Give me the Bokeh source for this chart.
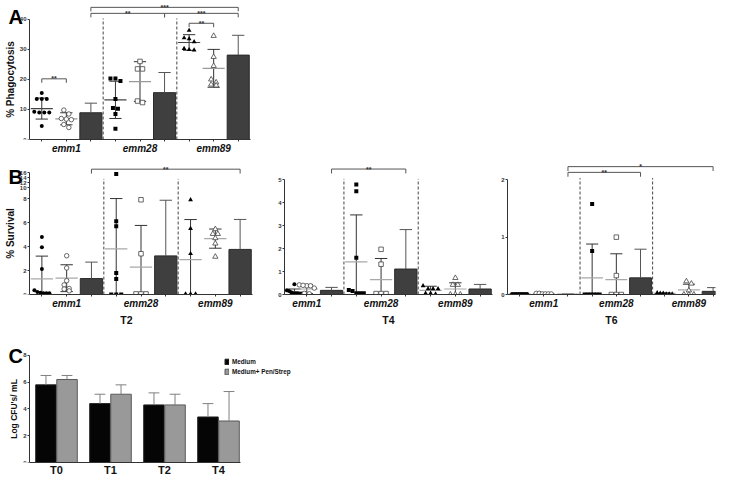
import numpy as np
from bokeh.plotting import figure
from bokeh.layouts import column, row
from bokeh.models import Range1d, FixedTicker
from bokeh.embed import file_html
from bokeh.resources import INLINE
from bokeh.core.properties import value

FONT = "Liberation Sans"
STRAINS = ["emm1", "emm28", "emm89"]
MARKERS = ["circle", "square", "triangle"]

# ---------------- Panel A : % Phagocytosis ----------------
A_FILLED = [[15.5, 13.5, 13.5, 13.5, 9.0, 9.0, 9.2, 9.0, 4.5],
            [20.3, 20.3, 19.5, 13.5, 10.5, 10.2, 8.5, 3.6],
            [36.3, 33.8, 33.5, 32.5, 30.3, 29.8, 29.9]]
A_FILLED_MEAN = [10.3, 13.2, 32.3]
A_FILLED_SD = [3.5, 6.2, 2.6]
A_OPEN = [[9.8, 8.5, 6.8, 6.6, 7.0, 5.0, 4.0],
          [26.0, 23.5, 23.5, 12.8, 12.3],
          [34.5, 27.5, 24.5, 20.0, 19.0, 18.3, 18.0]]
A_OPEN_MEAN = [6.9, 19.3, 23.7]
A_OPEN_SD = [2.0, 6.6, 6.3]
A_BAR = [8.9, 15.6, 28.1]
A_BAR_ERR = [3.2, 6.7, 6.6]
# (column from, column to, level, stars)
A_SIG = [(0, 1, 20.2, "**"), (6, 7, 38.7, "**"),
         (2, 5, 42.0, "**"), (5, 8, 42.0, "***"), (2, 8, 44.0, "***")]

# ---------------- Panel B : % Survival ----------------
B_TIMES = ["T2", "T4", "T6"]
T2_FILLED = [[4.8, 3.95, 2.13, 0.35, 0.2, 0.15, 0.1, 0.1, 0.1],
             [15.5, 6.1, 5.7, 1.8, 1.3, 0.0, 0.0, 0.0],
             [7.9, 5.5, 3.4, 0.05, 0.05, 0.05]]
T2_FILLED_MEAN = [1.3, 3.8, 2.9]
T2_FILLED_SD = [1.9, 4.2, 3.35]
T2_OPEN = [[3.23, 2.21, 1.15, 0.8, 0.5, 0.45, 0.3],
           [7.9, 3.4, 0.05, 0.05, 0.05],
           [5.45, 5.05, 5.05, 4.7, 4.25, 3.15]]
T2_OPEN_MEAN = [1.36, 2.29, 4.66]
T2_OPEN_SD = [1.12, 3.47, 0.8]
T2_BAR = [1.33, 3.22, 3.76]
T2_BAR_ERR = [1.37, 4.64, 2.5]
T2_SIG = [(2, 8, 10.45, "**")]

T4_FILLED = [[0.45, 0.18, 0.15, 0.1, 0.05, 0.05, 0.05, 0.03, 0.03],
             [4.8, 4.5, 1.6, 0.2, 0.15, 0.05, 0.05, 0.05],
             [0.38, 0.25, 0.25, 0.25, 0.05, 0.05, 0.02]]
T4_FILLED_MEAN = [0.12, 1.42, 0.18]
T4_FILLED_SD = [0.12, 2.05, 0.18]
T4_OPEN = [[0.42, 0.38, 0.38, 0.4, 0.28, 0.05, 0.03],
           [1.97, 1.32, 0.04, 0.04, 0.04],
           [0.72, 0.42, 0.42, 0.0, 0.0, 0.0]]
T4_OPEN_MEAN = [0.24, 0.65, 0.24]
T4_OPEN_SD = [0.2, 0.92, 0.27]
T4_BAR = [0.18, 1.11, 0.24]
T4_BAR_ERR = [0.13, 1.72, 0.2]
T4_SIG = [(2, 5, 5.47, "**")]

T6_FILLED = [[0.01, 0.01, 0.01, 0.01, 0.01, 0.01, 0.01, 0.01],
             [1.58, 0.76, 0.0, 0.0, 0.0, 0.0, 0.0, 0.0],
             [0.03, 0.02, 0.02, 0.01, 0.01, 0.01]]
T6_FILLED_MEAN = [0.01, 0.29, 0.02]
T6_FILLED_SD = [0.005, 0.59, 0.01]
T6_OPEN = [[0.02, 0.02, 0.01, 0.01, 0.01, 0.01],
           [1.0, 0.33, 0.0, 0.0, 0.0],
           [0.23, 0.19, 0.07, 0.0, 0.0, 0.0]]
T6_OPEN_MEAN = [0.015, 0.26, 0.08]
T6_OPEN_SD = [0.005, 0.45, 0.1]
T6_BAR = [0.004, 0.29, 0.055]
T6_BAR_ERR = [0.004, 0.5, 0.065]
T6_SIG = [(2, 5, 2.13, "**"), (2, 8, 2.23, "*")]

# ---------------- Panel C : Log CFU's / mL ----------------
C_TIMES = ["T0", "T1", "T2", "T4"]
C_MEDIUM = [5.8, 4.4, 4.3, 3.4]
C_MEDIUM_ERR = [0.7, 0.7, 0.9, 1.0]
C_PEN = [6.2, 5.1, 4.3, 3.1]
C_PEN_ERR = [0.3, 0.7, 0.8, 2.2]


def b1_tf(v):
    """broken axis of T2: 0-8 linear, 10-16 compressed"""
    if v <= 8:
        return v
    return 8.89 + (v - 10) * 0.21


def ident(v):
    return v


def swarm(vals, center, ypx, xpx, msize=4.0, maxw=15.0):
    vals = np.asarray(vals, dtype=float)
    xs = np.full(len(vals), float(center))
    order = list(np.argsort(-vals, kind="stable"))
    groups = []
    for i in order:
        if groups and abs(vals[groups[-1][0]] - vals[i]) * ypx < msize:
            groups[-1].append(i)
        else:
            groups.append([i])
    for g in groups:
        k = len(g)
        if k == 1:
            continue
        step = min(msize + 1.0, maxw / (k - 1))
        for j, i in enumerate(g):
            xs[i] = center + (j - (k - 1) / 2) * step / xpx
    return xs


def make_fig(w, h, xr, yr, mbl, mbr, mbt, mbb):
    p = figure(width=w, height=h, x_range=Range1d(*xr), y_range=Range1d(*yr),
               output_backend="svg", toolbar_location=None,
               min_border_left=mbl, min_border_right=mbr,
               min_border_top=mbt, min_border_bottom=mbb)
    p.grid.visible = False
    p.outline_line_color = None
    for ax in p.axis:
        ax.axis_line_color = "#333333"
        ax.major_tick_line_color = "#333333"
        ax.minor_tick_line_color = None
        ax.major_tick_out = 2
        ax.major_tick_in = 0
        ax.major_label_text_font = FONT
        ax.major_label_text_font_size = "6px"
        ax.major_label_text_font_style = "bold"
        ax.major_label_text_color = "#333333"
        ax.major_label_standoff = 1
        ax.axis_label_text_font = FONT
        ax.axis_label_text_font_style = "bold"
        ax.axis_label_text_font_size = "10px"
        ax.axis_label_text_color = "#111111"
        ax.axis_label_standoff = 1
    return p


def group_xaxis(p, label=None):
    ticks = [c + 0.5 for c in range(9)]
    p.xaxis.ticker = FixedTicker(ticks=ticks)
    p.xaxis.major_label_overrides = {t: "" for t in ticks}
    p.xaxis.major_label_overrides.update({3 * g + 1.5: s for g, s in enumerate(STRAINS)})
    p.xaxis.major_label_text_font_size = "10px"
    p.xaxis.major_label_text_font_style = "bold italic"
    p.xaxis.major_label_text_color = "#111111"
    p.xaxis.major_label_standoff = 1
    if label:
        p.xaxis.axis_label = label
        p.xaxis.axis_label_text_font_size = "10.5px"
        p.xaxis.axis_label_standoff = 2


def draw_groups(p, filled, fmean, fsd, opn, omean, osd, bars, berr,
                ypx, xpx, x0, tf=ident, msize=4.0, mean_fill="#6a6a6a", mean_open="#9a9a9a"):
    for g in range(3):
        cf = max(3 * g + 0.5, x0 + 0.4)
        co = 3 * g + 1.5
        cb = 3 * g + 2.5
        for c, vals, m, s, full in [(cf, filled[g], fmean[g], fsd[g], True),
                                    (co, opn[g], omean[g], osd[g], False)]:
            lo, hi = tf(m - s), tf(m + s)
            p.segment(x0=[c], y0=[lo], x1=[c], y1=[hi], line_color="#333333", line_width=1)
            p.segment(x0=[c - 0.25, c - 0.25], y0=[lo, hi], x1=[c + 0.25, c + 0.25], y1=[lo, hi],
                      line_color="#333333", line_width=1)
            p.segment(x0=[c - 0.45], y0=[tf(m)], x1=[c + 0.45], y1=[tf(m)],
                      line_color=mean_fill if full else mean_open, line_width=1.2)
            tv = [tf(v) for v in vals]
            xs = swarm(tv, c, ypx, xpx, msize=msize)
            size = msize + (0.8 if MARKERS[g] == "triangle" else 0)
            if full:
                p.scatter(x=list(xs), y=tv, marker=MARKERS[g], size=size,
                          fill_color="black", line_color=None)
            else:
                p.scatter(x=list(xs), y=tv, marker=MARKERS[g], size=size + 0.5,
                          fill_color="white", line_color="#444444", line_width=0.8)
        top = tf(bars[g])
        etop = tf(bars[g] + berr[g])
        p.vbar(x=[cb], top=[top], bottom=0, width=0.9, fill_color="#3f3f3f", line_color="#2a2a2a")
        p.segment(x0=[cb], y0=[top], x1=[cb], y1=[etop], line_color="#555555", line_width=1)
        p.segment(x0=[cb - 0.25], y0=[etop], x1=[cb + 0.25], y1=[etop], line_color="#555555", line_width=1)


def separators(p, top):
    p.segment(x0=[3, 6], y0=[0, 0], x1=[3, 6], y1=[top, top],
              line_color="#444444", line_dash="3 2", line_width=1)


def brackets(p, sigs, drop, font_px=7):
    for c1, c2, y, lab in sigs:
        x1, x2 = c1 + 0.5, c2 + 0.5
        p.line([x1, x1, x2, x2], [y - drop, y, y, y - drop], line_color="#555555", line_width=1)
        p.text(x=[(x1 + x2) / 2], y=[y], text=[lab], text_align="center",
               text_baseline="alphabetic", text_font=value(FONT),
               text_font_size=f"{font_px}px", text_font_style="bold", text_color="#333333")


def letter(p, txt, x, y):
    p.text(x=[x], y=[y], text=[txt], text_align="left", text_baseline="alphabetic",
           text_font=value(FONT), text_font_size="20px", text_font_style="bold",
           text_color="#000000")


AXW = 29     # px between the figure edge and the y axis line (axis drawn inside frame)
LETTER_X = 8  # px from the figure edge to the panel letter

# ---------- Panel A ----------
A_H, A_BOT = 156, 16
A_FH = A_H - A_BOT            # 140
A_PX = (A_FH - 19) / 40.0     # px per % unit
A_XPX = 221 / 9.0
A_X0 = -AXW / A_XPX
pa = make_fig(253, A_H, (A_X0, 9), (0, A_FH / A_PX), 0, 3, 0, A_BOT)
pa.yaxis.fixed_location = 0
pa.yaxis.bounds = (0, 40)
pa.yaxis.ticker = FixedTicker(ticks=[0, 10, 20, 30, 40])
pa.yaxis.axis_label = "% Phagocytosis"
pa.xaxis.bounds = (0, 9)
group_xaxis(pa)
separators(pa, 40.3)
draw_groups(pa, A_FILLED, A_FILLED_MEAN, A_FILLED_SD, A_OPEN, A_OPEN_MEAN, A_OPEN_SD,
            A_BAR, A_BAR_ERR, A_PX, A_XPX, 0, mean_fill="#444444", mean_open="#9a9a9a")
brackets(pa, A_SIG, 4 / A_PX)
letter(pa, "A", A_X0 + LETTER_X / A_XPX, (A_FH - 17) / A_PX)

# ---------- Panel B ----------
B_H, B_BOT = 172, 30
FB = B_H - B_BOT  # frame height (142)
B_MEAN = "#a8a8a8"
# T2 (broken axis)
B1_PX = 12.34
B1_XPX = 223 / 9.0
B1_X0 = -AXW / B1_XPX
pb1 = make_fig(260, B_H, (B1_X0, 9), (0, FB / B1_PX), 0, 8, 0, B_BOT)
pb1.yaxis.fixed_location = 0
brk_ticks = [round(b1_tf(v), 6) for v in (10, 12, 14, 16)]
pb1.yaxis.ticker = FixedTicker(ticks=[0, 2, 4, 6, 8] + brk_ticks)
pb1.yaxis.major_label_overrides = {t: str(v) for t, v in zip(brk_ticks, (10, 12, 14, 16))}
pb1.yaxis.bounds = (0, b1_tf(16))
pb1.yaxis.axis_label = "% Survival"
pb1.xaxis.bounds = (0, 9)
group_xaxis(pb1, B_TIMES[0])
separators(pb1, 9.64)
draw_groups(pb1, T2_FILLED, T2_FILLED_MEAN, T2_FILLED_SD, T2_OPEN, T2_OPEN_MEAN, T2_OPEN_SD,
            T2_BAR, T2_BAR_ERR, B1_PX, B1_XPX, 0, tf=b1_tf, mean_fill=B_MEAN, mean_open=B_MEAN)
brackets(pb1, T2_SIG, 4.5 / B1_PX)
letter(pb1, "B", B1_X0 + LETTER_X / B1_XPX, (FB - 21) / B1_PX)

# T4
B2_PX = 23.6
B2_X0 = 0.6
pb2 = make_fig(236, B_H, (B2_X0, B2_X0 + 208 / 24.76), (0, FB / B2_PX), 24, 4, 0, B_BOT)
pb2.yaxis.ticker = FixedTicker(ticks=[0, 1, 2, 3, 4, 5])
pb2.yaxis.bounds = (0, 5)
group_xaxis(pb2, B_TIMES[1])
separators(pb2, 5.04)
draw_groups(pb2, T4_FILLED, T4_FILLED_MEAN, T4_FILLED_SD, T4_OPEN, T4_OPEN_MEAN, T4_OPEN_SD,
            T4_BAR, T4_BAR_ERR, B2_PX, 24.76, B2_X0, mean_fill=B_MEAN, mean_open=B_MEAN)
brackets(pb2, T4_SIG, 4.5 / B2_PX)

# T6
B3_PX = 59.0
B3_XPX = 208 / 8.6
pb3 = make_fig(221, B_H, (0, 8.6), (0, FB / B3_PX), 11, 2, 0, B_BOT)
pb3.yaxis.ticker = FixedTicker(ticks=[0, 1, 2])
pb3.yaxis.bounds = (0, 2)
group_xaxis(pb3, B_TIMES[2])
separators(pb3, 2.03)
draw_groups(pb3, T6_FILLED, T6_FILLED_MEAN, T6_FILLED_SD, T6_OPEN, T6_OPEN_MEAN, T6_OPEN_SD,
            T6_BAR, T6_BAR_ERR, B3_PX, B3_XPX, 0, mean_fill=B_MEAN, mean_open=B_MEAN)
brackets(pb3, T6_SIG, 4.5 / B3_PX)

# ---------- Panel C ----------
C_H, C_TOP, C_BOT = 150, 8, 14
C_FH = C_H - C_TOP - C_BOT    # 128
C_PX = 13.6
C_XPX = 54.0
C_X0 = -AXW / C_XPX
pc = make_fig(303, C_H, (C_X0, (300 - AXW) / C_XPX), (0, C_FH / C_PX), 0, 3, C_TOP, C_BOT)
pc.yaxis.fixed_location = 0
pc.yaxis.ticker = FixedTicker(ticks=[0, 2, 4, 6, 8])
pc.yaxis.bounds = (0, 8)
pc.yaxis.axis_label = "Log CFU's/ mL"
pc.yaxis.axis_label_text_font_size = "8.5px"
cx = [i + 0.5 for i in range(len(C_TIMES))]
pc.xaxis.ticker = FixedTicker(ticks=cx)
pc.xaxis.major_label_overrides = {x: t for x, t in zip(cx, C_TIMES)}
pc.xaxis.major_label_text_font_size = "11px"
pc.xaxis.major_label_text_color = "#111111"
pc.xaxis.major_tick_out = 0
pc.xaxis.major_label_standoff = 1
pc.xaxis.bounds = (0, 3.9)
BW = 0.38
xm = [x - 0.195 for x in cx]
xp = [x + 0.195 for x in cx]
pc.vbar(x=xm, top=C_MEDIUM, width=BW, fill_color="#050505", line_color="#222222",
        legend_label="Medium")
pc.vbar(x=xp, top=C_PEN, width=BW, fill_color="#999999", line_color="#5a5a5a",
        legend_label="Medium+ Pen/Strep")
for xs_, ys_, es_ in [(xm, C_MEDIUM, C_MEDIUM_ERR), (xp, C_PEN, C_PEN_ERR)]:
    tops = [y + e for y, e in zip(ys_, es_)]
    pc.segment(x0=xs_, y0=ys_, x1=xs_, y1=tops, line_color="#808080", line_width=1)
    pc.segment(x0=[x - 0.1 for x in xs_], y0=tops, x1=[x + 0.1 for x in xs_], y1=tops,
               line_color="#808080", line_width=1)
lg = pc.legend[0]
lg.location = (224, 87)
lg.label_text_font = FONT
lg.label_text_font_size = "6.3px"
lg.label_text_font_style = "bold"
lg.label_text_color = "#111111"
lg.label_height = 8
lg.label_standoff = 3
lg.glyph_height = 7
lg.glyph_width = 5
lg.spacing = 2
lg.padding = 0
lg.margin = 0
lg.border_line_color = None
lg.background_fill_alpha = 0
letter(pc, "C", C_X0 + LETTER_X / C_XPX, (C_FH + C_TOP - 356 + (478 - C_H)) / C_PX)

layout = column(pa, row(pb1, pb2, pb3), pc)
with open("out.html", "w") as f:
    f.write(file_html(layout, INLINE))
